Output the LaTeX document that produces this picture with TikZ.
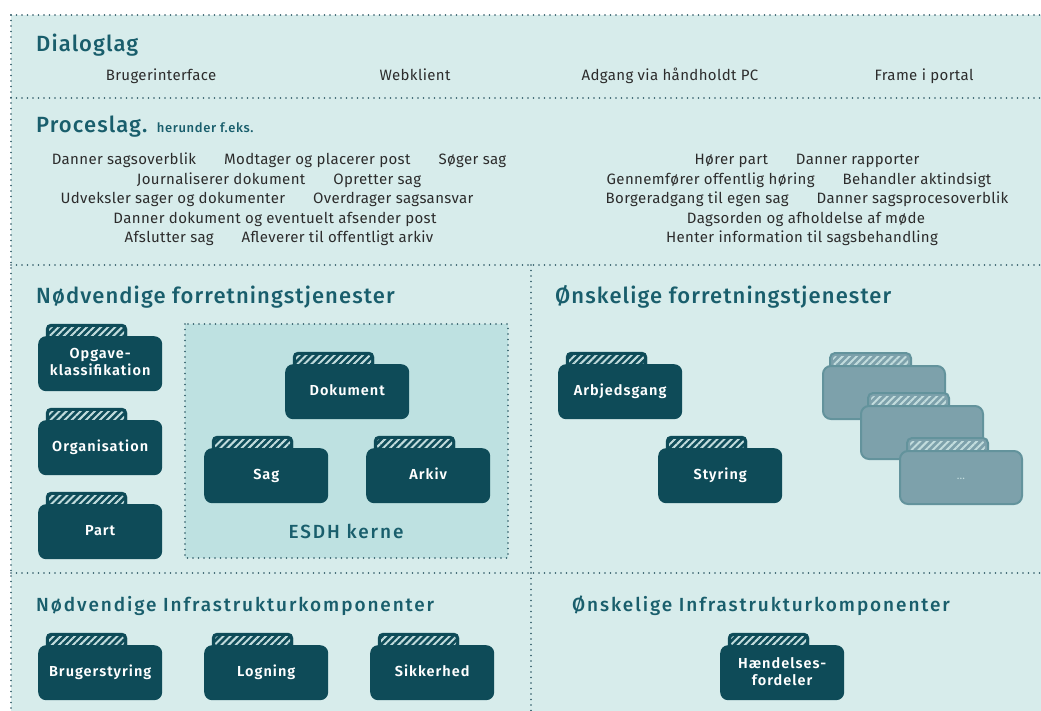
\documentclass[tikz,border=0pt]{standalone}
\usepackage{fontspec}
\setmainfont{Fira Sans}
\newfontfamily\headfont{Fira Sans Medium}[LetterSpace=5]
\newfontfamily\infrafont{Fira Sans Medium}[LetterSpace=10]
\newfontfamily\labelfont{Fira Sans SemiBold}[LetterSpace=7]
\newfontfamily\itemfont{Fira Sans}[LetterSpace=2.5]
\usetikzlibrary{patterns.meta}

\definecolor{bg}{HTML}{D7ECEB}
\definecolor{core}{HTML}{BEE1E1}
\definecolor{petrol}{HTML}{0E4B58}
\definecolor{heading}{HTML}{195E6C}
\definecolor{ink}{HTML}{2C2C2C}
\definecolor{dotline}{HTML}{2A5663}
\definecolor{ghost}{HTML}{7DA1AB}
\definecolor{ghostline}{HTML}{63939C}
\definecolor{hatch}{HTML}{C2DCDD}

\newcommand{\folder}[5][folder]{%
  \draw[#1 tab,rounded corners=5] (#3+8,#4+6) rectangle (#3+89,#4-12);
  \fill[pattern={Lines[angle=45,distance=5pt,line width=2pt]},pattern color=hatch,rounded corners=3]
    (#3+11,#4+1) rectangle (#3+86,#4-9);
  \node[#1,anchor=north west] (#2) at (#3,#4) {#5\vphantom{g}};
}

\begin{document}
\begin{tikzpicture}[x=1pt,y=-1pt,
  sep/.style={dotline,line width=1.8pt,dash pattern=on 0pt off 5.5pt,line cap=round},
  layer/.style={anchor=base west,inner sep=0,text=heading,font=\headfont\fontsize{22}{26}\selectfont},
  sublayer/.style={layer,font=\infrafont\fontsize{19}{22}\selectfont},
  item/.style={anchor=base,inner sep=0,text=ink,font=\itemfont\fontsize{15}{18}\selectfont},
  folder/.style={fill=petrol,rounded corners=8,minimum width=124,minimum height=55,inner sep=2,
    text=white,align=center,font=\labelfont\fontsize{14.5}{17}\selectfont},
  folder tab/.style={fill=petrol,draw=petrol},
  ghost/.style={folder,fill=ghost,draw=ghostline,line width=2pt,text=hatch,minimum width=122,minimum height=53},
  ghost tab/.style={fill=ghost,draw=ghostline,line width=2pt}]
  \useasboundingbox (0,0) rectangle (1041,711);
  \fill[bg] (11,15) rectangle (1041,711);
  \draw[sep,fill=core] (185,324) rectangle (508,558);
  \foreach \y in {15,98,265,573}
    \draw[sep] (11,\y) -- (1041,\y);
  \draw[sep] (11,15) -- (11,711);
  \draw[sep] (531,265) -- (531,711);

  \node[layer] (dialog) at (36,52) {Dialoglag};
  \node[item] (ui) at (161,81) {Brugerinterface};
  \node[item] (web) at (415,81) {Webklient};
  \node[item] (pc) at (670,81) {Adgang via håndholdt PC};
  \node[item] (portal) at (924,81) {Frame i portal};

  \node[layer] (proc) at (36,133) {Proceslag.};
  \node[anchor=base west,inner sep=0,text=heading,font=\headfont\fontsize{13}{15}\selectfont]
    (note) at ([xshift=9pt]proc.base east) {herunder f.eks.};
  \node[item] (p1) at (279,165) {Danner sagsoverblik\hspace{28pt}Modtager og placerer post\hspace{28pt}Søger sag};
  \node[item] (p2) at (279,184.5) {Journaliserer dokument\hspace{28pt}Opretter sag};
  \node[item] (p3) at (267,204) {Udveksler sager og dokumenter\hspace{28pt}Overdrager sagsansvar};
  \node[item] (p4) at (275,223.5) {Danner dokument og eventuelt afsender post};
  \node[item] (p5) at (279,243) {Afslutter sag\hspace{28pt}Afleverer til offentligt arkiv};
  \node[item] (q1) at (807,165) {Hører part\hspace{28pt}Danner rapporter};
  \node[item] (q2) at (799,184.5) {Gennemfører offentlig høring\hspace{28pt}Behandler aktindsigt};
  \node[item] (q3) at (807,204) {Borgeradgang til egen sag\hspace{28pt}Danner sagsprocesoverblik};
  \node[item] (q4) at (806,223.5) {Dagsorden og afholdelse af møde};
  \node[item] (q5) at (802,243) {Henter information til sagsbehandling};

  \node[layer] (need) at (36,303) {Nødvendige forretningstjenester};
  \node[layer] (want) at (555,303) {Ønskelige forretningstjenester};
  \folder{opgave}{38}{336}{Opgave-\\klassifikation}
  \folder{org}{38}{420}{Organisation}
  \folder{part}{38}{504}{Part}
  \folder{dok}{285}{364}{Dokument}
  \folder{sag}{204}{448}{Sag}
  \folder{arkiv}{366}{448}{Arkiv}
  \node[anchor=base,inner sep=0,text=heading,font=\infrafont\fontsize{19}{22}\selectfont] (esdh) at (346,538) {ESDH kerne};
  \folder{arbejd}{558}{364}{Arbjedsgang}
  \folder{styring}{658}{448}{Styring}
  \folder[ghost]{more1}{822}{365}{}
  \folder[ghost]{more2}{860}{405}{}
  \folder[ghost]{more3}{899}{450}{\fontsize{9}{10}\selectfont...}

  \node[sublayer] (needinfra) at (36,611) {Nødvendige Infrastrukturkomponenter};
  \node[sublayer] (wantinfra) at (572,611) {Ønskelige Infrastrukturkomponenter};
  \folder{bruger}{38}{645}{Brugerstyring}
  \folder{logning}{204}{645}{Logning}
  \folder{sikker}{370}{645}{Sikkerhed}
  \folder{event}{720}{645}{Hændelses-\\fordeler}
\end{tikzpicture}
\end{document}
